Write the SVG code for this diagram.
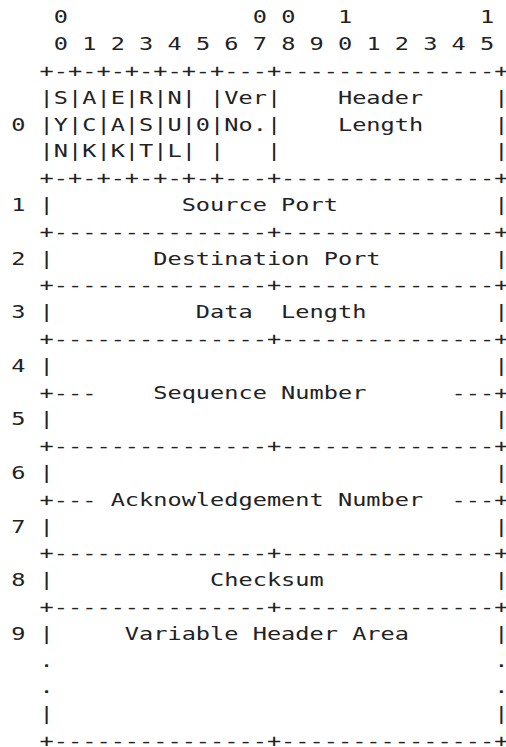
<svg xmlns="http://www.w3.org/2000/svg" width="506" height="747" viewBox="0 0 506 747" xml:space="preserve">
<style>
text{font-family:"DejaVu Sans Mono","Liberation Mono",monospace;font-size:18.3px;fill:#222;white-space:pre}
</style>
<rect width="506" height="747" fill="#fff"/>
<g transform="matrix(1.2907 0 0 1 11.15 0)">
<g id="bit-numbers">
<text x="33.053" y="23.4">0             0 0   1         1</text>
<text x="33.053" y="50.2">0 1 2 3 4 5 6 7 8 9 0 1 2 3 4 5</text>
</g>
<g id="row-labels">
<text x="0" y="130.6">0</text>
<text x="0" y="211.0">1</text>
<text x="0" y="264.6">2</text>
<text x="0" y="318.2">3</text>
<text x="0" y="371.8">4</text>
<text x="0" y="425.4">5</text>
<text x="0" y="479.0">6</text>
<text x="0" y="532.6">7</text>
<text x="0" y="586.2">8</text>
<text x="0" y="639.8">9</text>
</g>
<g id="connectors">
<text x="22.035" y="77.0">+-+-+-+-+-+-+---+---------------+</text>
<text x="22.035" y="184.2">+-+-+-+-+-+-+---+---------------+</text>
<text x="22.035" y="237.8">+---------------+---------------+</text>
<text x="22.035" y="291.4">+---------------+---------------+</text>
<text x="22.035" y="345.0">+---------------+---------------+</text>
<text x="22.035" y="452.2">+---------------+---------------+</text>
<text x="22.035" y="559.4">+---------------+---------------+</text>
<text x="22.035" y="613.0">+---------------+---------------+</text>
<text x="22.035" y="747.0">+---------------+---------------+</text>
</g>
<g id="flags-version-header-length">
<text x="22.035" y="103.8">|S|A|E|R|N| |Ver|    Header     |</text>
<text x="22.035" y="130.6">|Y|C|A|S|U|0|No.|    Length     |</text>
<text x="22.035" y="157.4">|N|K|K|T|L| |   |               |</text>
</g>
<g id="source-port">
<text x="22.035" y="211.0">|         Source Port           |</text>
</g>
<g id="destination-port">
<text x="22.035" y="264.6">|       Destination Port        |</text>
</g>
<g id="data-length">
<text x="22.035" y="318.2">|          Data  Length         |</text>
</g>
<g id="sequence-number">
<text x="22.035" y="371.8">|                               |</text>
<text x="22.035" y="398.6">+---    Sequence Number      ---+</text>
<text x="22.035" y="425.4">|                               |</text>
</g>
<g id="acknowledgement-number">
<text x="22.035" y="479.0">|                               |</text>
<text x="22.035" y="505.8">+--- Acknowledgement Number  ---+</text>
<text x="22.035" y="532.6">|                               |</text>
</g>
<g id="checksum">
<text x="22.035" y="586.2">|           Checksum            |</text>
</g>
<g id="variable-header-area">
<text x="22.035" y="639.8">|     Variable Header Area      |</text>
<text x="22.035" y="666.6">.                               .</text>
<text x="22.035" y="693.4">.                               .</text>
<text x="22.035" y="720.2">|                               |</text>
</g>
</g>
</svg>
